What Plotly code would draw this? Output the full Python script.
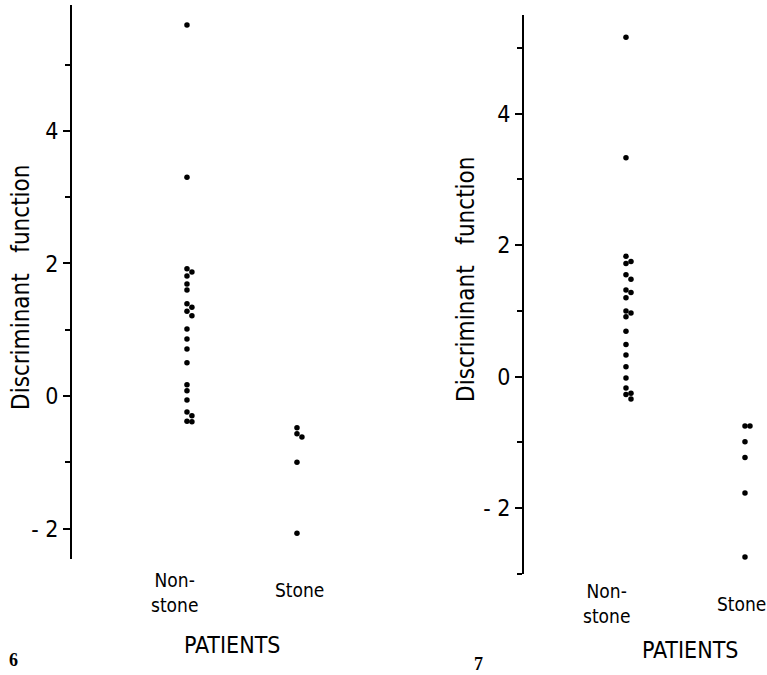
import plotly.graph_objects as go

# ---------------- data ----------------
categories = ["Non-stone", "Stone"]
cat_labels = ["Non-<br>stone", "Stone"]

fig6_nonstone = [5.60, 3.30, 1.92, 1.87, 1.81, 1.69, 1.60, 1.39, 1.34, 1.28, 1.21,
                 1.01, 0.86, 0.71, 0.50, 0.17, 0.08, -0.06, -0.24, -0.30, -0.38, -0.39]
fig6_stone = [-0.48, -0.57, -0.62, -1.00, -2.07]

fig7_nonstone = [5.16, 3.33, 1.83, 1.75, 1.72, 1.55, 1.48, 1.32, 1.28, 1.20, 1.00,
                 0.97, 0.91, 0.69, 0.49, 0.33, 0.15, -0.02, -0.17, -0.25, -0.27, -0.34]
fig7_stone = [-0.75, -0.75, -0.99, -1.23, -1.77, -2.74]

major_ticks = [-2, 0, 2, 4]
major_text = ["- 2", "0", "2", "4"]

y_title = "Discriminant\u00a0\u00a0\u00a0function"
x_title = "PATIENTS"
panel_numbers = ["6", "7"]

FONT = "DejaVu Sans Condensed, Liberation Sans Narrow, DejaVu Sans, sans-serif"


def swarm_offsets(values, thresh=0.085, step=0.045):
    """Offset near-coincident dots sideways so they stay visible."""
    order = sorted(range(len(values)), key=lambda i: -values[i])
    offs = [0.0] * len(values)
    prev_v, prev_o = None, None
    for i in order:
        v = values[i]
        if prev_v is not None and abs(prev_v - v) < thresh and prev_o == 0.0:
            offs[i] = step
        else:
            offs[i] = 0.0
        prev_v, prev_o = v, offs[i]
    return offs


fig = go.Figure()

panels = [
    dict(xa="x", ya="y", ns=fig6_nonstone, st=fig6_stone, step=0.045),
    dict(xa="x2", ya="y2", ns=fig7_nonstone, st=fig7_stone, step=0.042),
]
for p in panels:
    for ci, vals in enumerate([p["ns"], p["st"]]):
        offs = swarm_offsets(vals, step=p["step"])
        fig.add_trace(go.Scatter(
            x=[ci + o for o in offs], y=vals, mode="markers",
            marker=dict(color="black", size=5.5),
            xaxis=p["xa"], yaxis=p["ya"], showlegend=False, hoverinfo="y"))

W, H = 767, 675

def px(xp):
    return xp / W

def py(yp):
    return 1 - yp / H

yaxis_common = dict(
    tickmode="array", tickvals=major_ticks, ticktext=major_text,
    ticks="outside", ticklen=7, tickwidth=1.5, tickcolor="black",
    showline=True, linecolor="black", linewidth=2, showgrid=False, zeroline=False,
    tickfont=dict(family=FONT, size=23, color="black"),
    minor=dict(tickmode="linear", tick0=1, dtick=2, ticks="outside", ticklen=5,
               tickwidth=1.5, tickcolor="black", showgrid=False),
)

fig.update_layout(
    width=W, height=H,
    margin=dict(l=0, r=0, t=0, b=0),
    paper_bgcolor="white", plot_bgcolor="white",
    xaxis=dict(domain=[px(72), px(340)], range=[-1.045, 1.391], visible=False),
    yaxis=dict(domain=[py(559), py(5)], range=[-2.46, 5.9], **yaxis_common),
    xaxis2=dict(domain=[px(524), 1.0], range=[-0.857, 1.185], visible=False),
    yaxis2=dict(domain=[py(574), py(15)], range=[-3.0, 5.5], anchor="x2", **yaxis_common),
)

ann = []
lab_font = dict(family=FONT, size=19, color="black")
big_font = dict(family=FONT, size=23, color="black")
num_font = dict(family="Liberation Serif, serif", size=18, color="black")
base = dict(showarrow=False, xanchor="center", yanchor="middle")
# panel 6 labels
ann.append(dict(text=cat_labels[0], x=0, xref="x", y=py(592), yref="paper",
                xshift=-12, font=lab_font, align="center", **base))
ann.append(dict(text=cat_labels[1], x=1, xref="x", y=py(590), yref="paper",
                xshift=3, font=lab_font, **base))
ann.append(dict(text=x_title, x=px(232), xref="paper", y=py(645), yref="paper",
                font=big_font, **base))
ann.append(dict(text=y_title, x=px(21), xref="paper", y=py(288), yref="paper",
                textangle=-90, font=dict(family=FONT, size=24, color="black"), **base))
ann.append(dict(text="<b>" + panel_numbers[0] + "</b>", x=px(13), xref="paper",
                y=py(660), yref="paper", font=num_font, **base))
# panel 7 labels
ann.append(dict(text=cat_labels[0], x=0, xref="x2", y=py(603), yref="paper",
                xshift=-19, font=lab_font, align="center", **base))
ann.append(dict(text=cat_labels[1], x=1, xref="x2", y=py(604), yref="paper",
                xshift=-3, font=lab_font, **base))
ann.append(dict(text=x_title, x=px(690), xref="paper", y=py(650), yref="paper",
                font=big_font, **base))
ann.append(dict(text=y_title, x=px(466), xref="paper", y=py(280), yref="paper",
                textangle=-90, font=dict(family=FONT, size=24, color="black"), **base))
ann.append(dict(text="<b>" + panel_numbers[1] + "</b>", x=px(478), xref="paper",
                y=py(664), yref="paper", font=num_font, **base))
fig.update_layout(annotations=ann)

fig.write_html("out.html", config={"displayModeBar": False},
               post_script="document.body.style.margin='0';document.body.style.padding='0';")
